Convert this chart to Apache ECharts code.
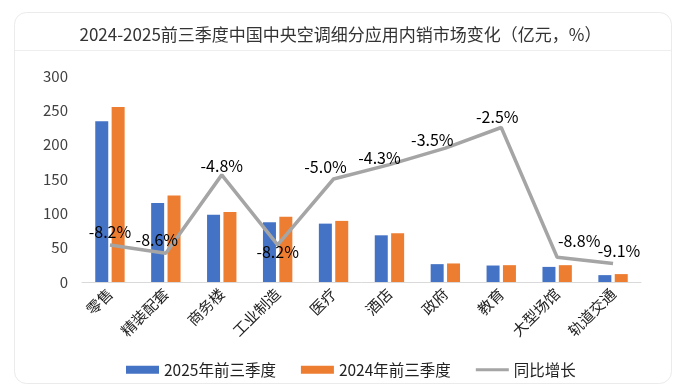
<!DOCTYPE html>
<html>
<head>
<meta charset="utf-8">
<script src="https://cdn.jsdelivr.net/npm/echarts@6/dist/echarts.min.js"></script>
<style>
html,body{margin:0;padding:0;background:#fff;}
#c{width:687px;height:386px;}
</style>
</head>
<body>
<div id="c"></div>
<script>
const titleText = '2024-2025前三季度中国中央空调细分应用内销市场变化（亿元，%）';
const categories = ['零售','精装配套','商务楼','工业制造','医疗','酒店','政府','教育','大型场馆','轨道交通'];
const values2025 = [234, 115, 98, 87, 85, 68, 26, 24, 22, 10];
const values2024 = [255, 126, 102, 95, 89, 71, 27, 24.5, 24.5, 11.5];
const growth = [-8.2, -8.6, -4.8, -8.2, -5.0, -4.3, -3.5, -2.5, -8.8, -9.1];
const seriesNames = ['2025年前三季度', '2024年前三季度', '同比增长'];
const yTicks = [0, 300, 50];

const FONT = '"Noto Sans CJK SC", "Noto Sans", sans-serif';
// label tweaks [position, dx, dy]
const labelTweaks = [
  ['top', 0, 0], ['top', -9, 0], ['top', 0, 4], ['bottom', 0, -6], ['top', -8, 1],
  ['top', -10, 6], ['top', -13, 5], ['top', -4, 2], ['top', 22, -3], ['top', 6, 0]
];

const labelData = growth.map((v, i) => ({
  value: v,
  label: { position: labelTweaks[i][0], offset: [labelTweaks[i][1], labelTweaks[i][2]] }
}));

const chart = echarts.init(document.getElementById('c'));
chart.setOption({
  backgroundColor: '#fff',
  animation: false,
  textStyle: { fontFamily: FONT },
  graphic: [
    { type: 'rect', shape: { x: 14.5, y: 12.5, width: 657, height: 371, r: 12 },
      style: { fill: 'none', stroke: '#ebebeb', lineWidth: 1 }, z: -1 },
    { type: 'line', shape: { x1: 15, y1: 50.5, x2: 671, y2: 50.5 },
      style: { stroke: '#eeeeee', lineWidth: 1 }, z: -1 }
  ],
  title: {
    text: titleText,
    left: 335.5,
    textAlign: 'center',
    top: 21,
    textStyle: { fontSize: 17, fontWeight: 'normal', color: '#333', fontFamily: FONT }
  },
  legend: {
    left: 121,
    top: 357,
    itemWidth: 33,
    itemHeight: 8,
    itemGap: 25,
    textStyle: { fontSize: 15.5, color: '#222', fontFamily: FONT },
    data: [
      { name: seriesNames[0], icon: 'rect' },
      { name: seriesNames[1], icon: 'rect' },
      { name: seriesNames[2], icon: 'path://M0,0L33,0L33,3L0,3Z' }
    ]
  },
  grid: { left: 82, right: 46, top: 76, bottom: 104, containLabel: false },
  xAxis: {
    type: 'category',
    data: categories,
    axisLine: { lineStyle: { color: '#d9d9d9', width: 1 } },
    axisTick: { show: false },
    axisLabel: { rotate: 45, fontSize: 15, color: '#222', margin: 9, interval: 0, fontFamily: FONT }
  },
  yAxis: [
    {
      type: 'value', min: yTicks[0], max: yTicks[1], interval: yTicks[2],
      splitLine: { show: false },
      axisLine: { show: false }, axisTick: { show: false },
      axisLabel: { fontSize: 15, color: '#404040', margin: 14, fontFamily: FONT }
    },
    {
      type: 'value', min: -10, max: 0, interval: 2, show: false,
      splitLine: { show: false }
    }
  ],
  series: [
    { name: seriesNames[0], type: 'bar', data: values2025, barWidth: 13, barGap: '26%',
      itemStyle: { color: '#4472c4' } },
    { name: seriesNames[1], type: 'bar', data: values2024, barWidth: 13, barGap: '26%',
      itemStyle: { color: '#ed7d31' } },
    { name: seriesNames[2], type: 'line', yAxisIndex: 1, data: growth,
      symbol: 'none', showSymbol: false,
      lineStyle: { color: '#a5a5a5', width: 3.5 },
      itemStyle: { color: '#a5a5a5' },
      z: 3 },
    { name: 'growthLabels', type: 'scatter', yAxisIndex: 1, data: labelData,
      symbol: 'circle', symbolSize: 0.01,
      itemStyle: { color: '#a5a5a5' },
      label: { show: true, position: 'top', distance: 5, fontSize: 16, color: '#000', opacity: 1,
        fontFamily: FONT, formatter: p => p.value.toFixed(1) + '%' },
      silent: true, z: 4 }
  ]
});
</script>
</body>
</html>
